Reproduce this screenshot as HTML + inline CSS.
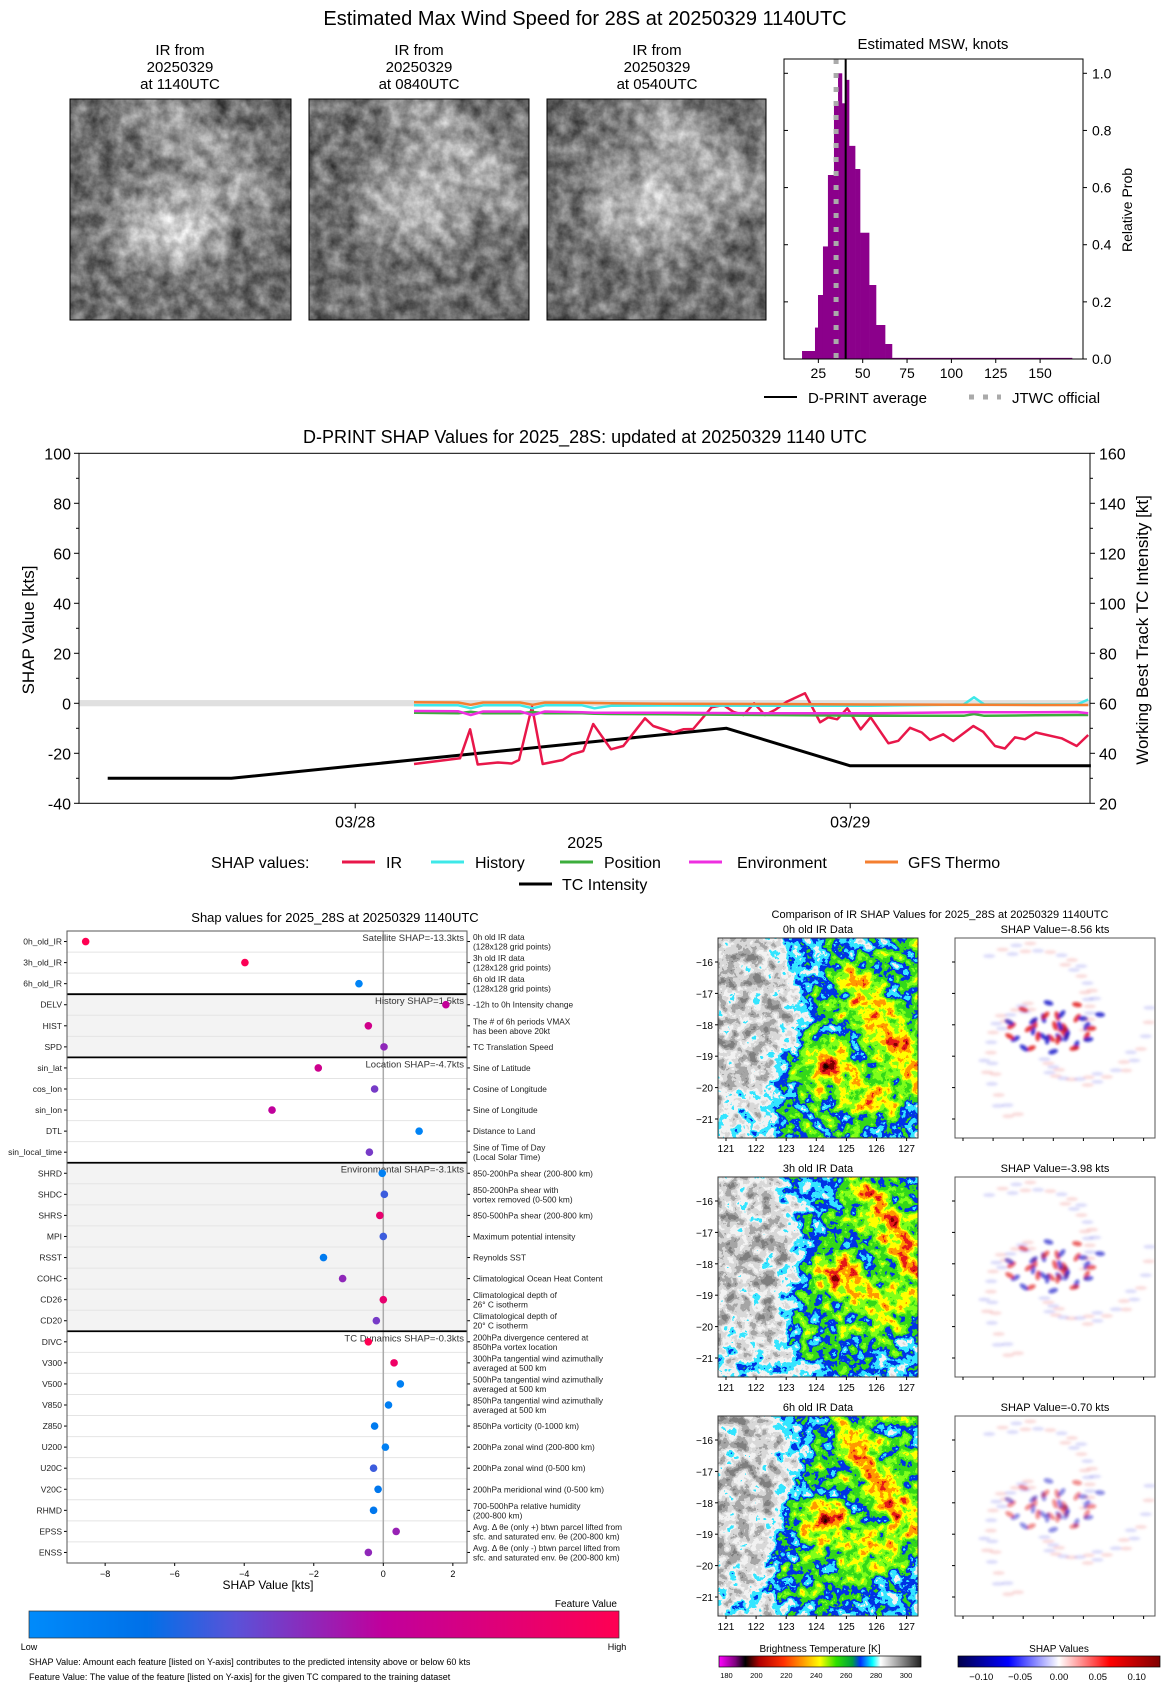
<!DOCTYPE html>
<html><head><meta charset="utf-8">
<style>
html,body{margin:0;padding:0;background:#fff;}
svg{display:block;font-family:"Liberation Sans","DejaVu Sans",sans-serif;}
</style></head>
<body>
<svg id="root" width="1168" height="1683" viewBox="0 0 1168 1683" xmlns="http://www.w3.org/2000/svg">
<defs>
  <filter id="grayIR" filterUnits="userSpaceOnUse" x="0" y="0" width="1168" height="1683" color-interpolation-filters="sRGB">
    <feGaussianBlur in="SourceGraphic" stdDeviation="10" result="src"/>
    <feTurbulence type="fractalNoise" baseFrequency="0.07" numOctaves="4" seed="3" result="n"/>
    <feColorMatrix in="n" type="matrix" values="1 0 0 0 0  1 0 0 0 0  1 0 0 0 0  0 0 0 0 1" result="ng"/>
    <feComposite in="src" in2="ng" operator="arithmetic" k1="0" k2="0.9" k3="0.6" k4="-0.2"/>
  </filter>
  <filter id="colIR" filterUnits="userSpaceOnUse" x="0" y="0" width="1168" height="1683" color-interpolation-filters="sRGB">
    <feGaussianBlur in="SourceGraphic" stdDeviation="9" result="src"/>
    <feTurbulence type="fractalNoise" baseFrequency="0.08" numOctaves="4" seed="7" result="n"/>
    <feColorMatrix in="n" type="matrix" values="1 0 0 0 0  1 0 0 0 0  1 0 0 0 0  0 0 0 0 1" result="ng"/>
    <feComposite in="src" in2="ng" operator="arithmetic" k1="0" k2="1" k3="0.6" k4="-0.3" result="v"/>
    <feComponentTransfer in="v">
      <feFuncR type="discrete" tableValues="0.5 0.65 0.85 0.95 0.2 0.0 0.2 0.5 1 1 0.9 0.5 0.1"/>
      <feFuncG type="discrete" tableValues="0.5 0.65 0.85 0.95 0.9 0.2 0.85 1 1 0.6 0.1 0.0 0.0"/>
      <feFuncB type="discrete" tableValues="0.5 0.65 0.85 0.95 1 0.9 0.1 0.1 0 0 0.1 0 0"/>
      <feFuncA type="linear" slope="0" intercept="1"/>
    </feComponentTransfer>
  </filter>
  <filter id="blur2" filterUnits="userSpaceOnUse" x="0" y="0" width="1168" height="1683"><feGaussianBlur stdDeviation="1.3"/></filter>
  <clipPath id="c1"><rect x="70" y="99" width="221" height="221"/></clipPath>
  <clipPath id="c2"><rect x="309" y="99" width="220" height="221"/></clipPath>
  <clipPath id="c3"><rect x="547" y="99" width="219" height="221"/></clipPath>
  <linearGradient id="fvGrad" x1="0" x2="1" y1="0" y2="0">
    <stop offset="0" stop-color="#008bfb"/><stop offset="0.2" stop-color="#0070e8"/>
    <stop offset="0.35" stop-color="#5a52d8"/><stop offset="0.6" stop-color="#c0009c"/>
    <stop offset="1" stop-color="#ff0052"/>
  </linearGradient>
  <linearGradient id="btGrad" x1="0" x2="1" y1="0" y2="0">
    <stop offset="0" stop-color="#ff00ff"/><stop offset="0.08" stop-color="#800080"/>
    <stop offset="0.13" stop-color="#000"/><stop offset="0.2" stop-color="#b00000"/>
    <stop offset="0.32" stop-color="#ff3000"/><stop offset="0.42" stop-color="#ffa000"/>
    <stop offset="0.5" stop-color="#ffff00"/><stop offset="0.58" stop-color="#30e000"/>
    <stop offset="0.66" stop-color="#00a040"/><stop offset="0.7" stop-color="#0030ff"/>
    <stop offset="0.76" stop-color="#00ffff"/><stop offset="0.8" stop-color="#ffffff"/>
    <stop offset="1" stop-color="#202020"/>
  </linearGradient>
  <linearGradient id="shGrad" x1="0" x2="1" y1="0" y2="0">
    <stop offset="0" stop-color="#00004c"/><stop offset="0.25" stop-color="#0000ff"/>
    <stop offset="0.5" stop-color="#ffffff"/><stop offset="0.75" stop-color="#ff0000"/>
    <stop offset="1" stop-color="#800000"/>
  </linearGradient>
</defs>

<text x="585" y="25" font-size="20" text-anchor="middle">Estimated Max Wind Speed for 28S at 20250329 1140UTC</text>

<g>
  <g font-size="15" text-anchor="middle">
    <text x="180" y="55">IR from</text>
    <text x="180" y="72">20250329</text><text x="180" y="89">at 1140UTC</text>
    <text x="419" y="55">IR from</text>
    <text x="419" y="72">20250329</text><text x="419" y="89">at 0840UTC</text>
    <text x="657" y="55">IR from</text>
    <text x="657" y="72">20250329</text><text x="657" y="89">at 0540UTC</text>
  </g>
  <g>
    <g clip-path="url(#c1)"><g filter="url(#grayIR)"><rect x="60" y="90" width="240" height="240" fill="#606060"/>
      <ellipse cx="200" cy="150" rx="100" ry="30" transform="rotate(40 200 150)" fill="#909090"/>
      <ellipse cx="170" cy="225" rx="60" ry="45" fill="#a0a0a0"/><ellipse cx="180" cy="230" rx="22" ry="18" fill="#e0e0e0"/></g></g>
    <rect x="70" y="99" width="221" height="221" fill="none" stroke="#000"/>
  </g>
  <g>
    <g clip-path="url(#c2)"><g filter="url(#grayIR)"><rect x="300" y="90" width="240" height="240" fill="#606060"/>
      <ellipse cx="460" cy="150" rx="100" ry="25" transform="rotate(40 460 150)" fill="#a0a0a0"/>
      <ellipse cx="420" cy="200" rx="60" ry="50" fill="#989898"/><ellipse cx="425" cy="205" rx="18" ry="15" fill="#c8c8c8"/></g></g>
    <rect x="309" y="99" width="220" height="221" fill="none" stroke="#000"/>
  </g>
  <g>
    <g clip-path="url(#c3)"><g filter="url(#grayIR)"><rect x="540" y="90" width="240" height="240" fill="#606060"/>
      <ellipse cx="700" cy="150" rx="90" ry="25" transform="rotate(40 700 150)" fill="#a0a0a0"/>
      <ellipse cx="655" cy="200" rx="70" ry="60" fill="#989898"/><ellipse cx="655" cy="200" rx="20" ry="16" fill="#e0e0e0"/></g></g>
    <rect x="547" y="99" width="219" height="221" fill="none" stroke="#000"/>
  </g>
</g>

<g id="hist"></g>
<g id="ts"></g>
<g id="bar"></g>
<g id="maps"></g>
</svg>

<script>
// ---------- histogram data ----------
const histEdges = [15.8,23.1,24.8,27.6,30.4,33.8,36.1,38.3,40.6,42.3,45.7,48.5,53.6,57.5,62.6,66.5,168];
const histProbs = [0.028,0.11,0.224,0.394,0.644,0.895,1.0,0.895,0.977,0.746,0.665,0.442,0.259,0.119,0.0525,0.004];
const histXTicks = [25,50,75,100,125,150];
const histYTicks = [0,0.2,0.4,0.6,0.8,1.0];
const dprintAvg = 40.4;
const jtwcOfficial = 35;

// ---------- SHAP time series data (hours from 03/28 00Z) ----------
const irHours = [2.85,5.08,5.57,5.94,6.92,7.59,7.94,8.57,9.09,10.06,10.5,11.06,11.54,12.4,13.0,14.05,14.45,15.42,15.91,16.39,17.28,17.85,18.33,18.82,19.34,19.87,20.35,20.92,21.81,22.54,22.94,23.37,23.86,24.51,24.99,25.85,26.33,26.9,27.47,27.87,28.51,29.0,29.97,30.45,31.02,31.5,31.99,32.47,33.0,34.25,34.98,35.54];
const irVals = [-24.3,-22,-10.4,-24.5,-23.7,-24.1,-22.7,-1.3,-24.3,-22.7,-20.4,-19.1,-8.3,-18.4,-17.1,-6,-9.1,-11.7,-10.4,-10.3,-1.6,-0.7,-3.4,-4.7,0,-4.7,-2.7,0.6,4,-7.6,-5.6,-6.4,-2,-10.4,-5.6,-16,-15,-9.8,-11.7,-14.7,-12.4,-15.1,-9.1,-11.4,-17.1,-18.1,-13.6,-14.4,-11.7,-14,-17.1,-12.7];
const compHours = [2.85,5.0,5.6,6.2,8.0,8.6,9.2,11.0,11.6,12.4,15,20,25,29.5,30.0,30.5,33,35,35.54];
const historyVals = [-0.8,-0.8,-2,-0.8,-0.8,-2,-0.8,-0.8,-2,-1,-0.9,-1,-1,-0.5,2.4,-0.5,-0.5,-0.5,1.5];
const positionVals = [-3.8,-4,-3.4,-4,-4,-3.5,-4,-4,-4.2,-4.3,-4.4,-4.7,-5,-5,-4.3,-5,-4.8,-4.7,-4.7];
const environmentVals = [-3.1,-3.2,-4.7,-3.3,-3.3,-4.7,-3.3,-3.6,-3.8,-3.8,-3.8,-4,-4,-3.6,-3.5,-3.6,-3.6,-3.5,-4];
const gfsVals = [0.4,0.3,-0.6,0.3,0.3,-0.6,0.3,0.2,0.1,0,-0.2,-0.3,-0.5,-0.6,-0.6,-0.6,-0.7,-0.7,-0.7];
const tcHours = [-12,-6,0,6,12,18,24,30,35.67];
const tcVals = [30,30,35,40,45,50,35,35,35];
const tsLeftTicks = [100,80,60,40,20,0,-20,-40];
const tsRightTicks = [160,140,120,100,80,60,40,20];
const tsDateTicks = [0,24];
const tsDateLabels = ["03/28","03/29"];

// ---------- feature SHAP data ----------
const featNames = ["0h_old_IR","3h_old_IR","6h_old_IR","DELV","HIST","SPD","sin_lat","cos_lon","sin_lon","DTL","sin_local_time","SHRD","SHDC","SHRS","MPI","RSST","COHC","CD26","CD20","DIVC","V300","V500","V850","Z850","U200","U20C","V20C","RHMD","EPSS","ENSS"];
const featShap = [-8.56,-3.98,-0.70,1.8,-0.43,0.02,-1.87,-0.25,-3.2,1.03,-0.4,-0.03,0.03,-0.1,0,-1.72,-1.17,0,-0.2,-0.43,0.31,0.49,0.15,-0.25,0.06,-0.28,-0.15,-0.28,0.37,-0.43];
const featValue = [1.0,0.98,0.05,0.62,0.7,0.48,0.68,0.42,0.6,0.06,0.42,0.08,0.3,0.85,0.3,0.12,0.48,0.85,0.42,1.0,0.9,0.08,0.1,0.12,0.08,0.3,0.15,0.15,0.5,0.48];
const featDesc = [["0h old IR data","(128x128 grid points)"],["3h old IR data","(128x128 grid points)"],["6h old IR data","(128x128 grid points)"],["-12h to 0h Intensity change"],["The # of 6h periods VMAX","has been above 20kt"],["TC Translation Speed"],["Sine of Latitude"],["Cosine of Longitude"],["Sine of Longitude"],["Distance to Land"],["Sine of Time of Day","(Local Solar Time)"],["850-200hPa shear (200-800 km)"],["850-200hPa shear with","vortex removed (0-500 km)"],["850-500hPa shear (200-800 km)"],["Maximum potential intensity"],["Reynolds SST"],["Climatological Ocean Heat Content"],["Climatological depth of","26° C isotherm"],["Climatological depth of","20° C isotherm"],["200hPa divergence centered at","850hPa vortex location"],["300hPa tangential wind azimuthally","averaged at 500 km"],["500hPa tangential wind azimuthally","averaged at 500 km"],["850hPa tangential wind azimuthally","averaged at 500 km"],["850hPa vorticity (0-1000 km)"],["200hPa zonal wind (200-800 km)"],["200hPa zonal wind (0-500 km)"],["200hPa meridional wind (0-500 km)"],["700-500hPa relative humidity","(200-800 km)"],["Avg. Δ θe (only +) btwn parcel lifted from","sfc. and saturated env. θe (200-800 km)"],["Avg. Δ θe (only -) btwn parcel lifted from","sfc. and saturated env. θe (200-800 km)"]];
const groupStarts = [0,3,6,11,19];
const groupTitles = ["Satellite SHAP=-13.3kts","History SHAP=1.5kts","Location SHAP=-4.7kts","Environmental SHAP=-3.1kts","TC Dynamics SHAP=-0.3kts"];
const groupShaded = [false,true,false,true,false];
const featXTicks = [-8,-6,-4,-2,0,2];

// ---------- map panels ----------
const mapTitles = ["0h old IR Data","3h old IR Data","6h old IR Data"];
const mapShapTitles = ["SHAP Value=-8.56 kts","SHAP Value=-3.98 kts","SHAP Value=-0.70 kts"];
const latTicks = [-16,-17,-18,-19,-20,-21];
const lonTicks = [121,122,123,124,125,126,127];
const btTicks = [180,200,220,240,260,280,300];
const shapCbTicks = [-0.10,-0.05,0.00,0.05,0.10];

const NS = "http://www.w3.org/2000/svg";
function mk(parent, tag, attrs, text) {
  const e = document.createElementNS(NS, tag);
  for (const k in attrs) e.setAttribute(k, attrs[k]);
  if (text !== undefined) e.textContent = text;
  parent.appendChild(e);
  return e;
}

// ================= HISTOGRAM =================
(function(){
  const g = document.getElementById('hist');
  const L=784,R=1083,T=59,B=359;
  const hx = v => 774 + (v)*1.774;
  const hy = p => B - p*285.7;
  let el;
  el = mk(g,'text',{x:933,y:49,'font-size':15,'text-anchor':'middle'},'Estimated MSW, knots');
  
  
  for (let i=0;i<histProbs.length;i++){
    el = mk(g,'rect',{x:hx(histEdges[i]),y:hy(histProbs[i]),width:hx(histEdges[i+1])-hx(histEdges[i])+0.3,height:B-hy(histProbs[i]),fill:'#8b008b'});
    
    
  }
  el = mk(g,'line',{x1:hx(jtwcOfficial),x2:hx(jtwcOfficial),y1:T,y2:B,stroke:'#aaa','stroke-width':5,'stroke-dasharray':'5 9'});
  
  
  el = mk(g,'line',{x1:hx(dprintAvg),x2:hx(dprintAvg),y1:T,y2:B,stroke:'#000','stroke-width':2});
  
  
  el = mk(g,'rect',{x:L,y:T,width:R-L,height:B-T,fill:'none',stroke:'#000'});
  
  
  for (const t of histXTicks){
    mk(g,'line',{x1:hx(t),x2:hx(t),y1:B,y2:B+4,stroke:'#000'});
    el = mk(g,'text',{x:hx(t),y:B+19,'font-size':14,'text-anchor':'middle'},String(t));
    
    
  }
  for (const t of histYTicks){
    mk(g,'line',{x1:R,x2:R+4,y1:hy(t),y2:hy(t),stroke:'#000'});
    mk(g,'line',{x1:L,x2:L+4,y1:hy(t),y2:hy(t),stroke:'#000'});
    el = mk(g,'text',{x:R+9,y:hy(t)+5,'font-size':14},t.toFixed(1));
    
    
  }
  el = mk(g,'text',{x:0,y:0,'font-size':14,'text-anchor':'middle',transform:'translate(1132 210) rotate(-90)'},'Relative Prob');
  
  
  mk(g,'line',{x1:764,x2:797,y1:397,y2:397,stroke:'#000','stroke-width':2});
  el = mk(g,'text',{x:808,y:403,'font-size':15},'D-PRINT average');
  
  
  mk(g,'line',{x1:969,x2:1001,y1:397,y2:397,stroke:'#aaa','stroke-width':5,'stroke-dasharray':'5 9'});
  el = mk(g,'text',{x:1012,y:403,'font-size':15},'JTWC official');
  
  
})();

// ================= TIME SERIES =================
(function(){
  const g = document.getElementById('ts');
  const L=79,R=1090,T=453.3,B=803.3;
  const tx = h => 355.2 + h*20.625;
  const ty = v => 703.3 - v*2.5;
  const tyR = k => ty(k-60);
  let el;
  el = mk(g,'text',{x:585,y:443,'font-size':18,'text-anchor':'middle'},'D-PRINT SHAP Values for 2025_28S: updated at 20250329 1140 UTC');
  
  
  el = mk(g,'rect',{x:L,y:ty(1.3),width:R-L,height:ty(-1.2)-ty(1.3),fill:'#e0e0e0'});
  
  
  function line(hs, vs, color, w, yf){
    const pts = hs.map((h,i)=> tx(h).toFixed(1)+','+(yf||ty)(vs[i]).toFixed(1)).join(' ');
    return mk(g,'polyline',{points:pts,fill:'none',stroke:color,'stroke-width':w,'stroke-linejoin':'round'});
  }
  el = line(tcHours,tcVals,'#000',3,tyR);
  
  
  el = line(irHours,irVals,'#e8174a',2.5);
  
  
  el = line(compHours,positionVals,'#3cae3c',2.5);
  
  
  el = line(compHours,environmentVals,'#ee2fe0',2.5);
  
  
  el = line(compHours,historyVals,'#3ee8e8',2.5);
  
  
  el = line(compHours,gfsVals,'#f47f30',2.5);
  
  
  el = mk(g,'rect',{x:L,y:T,width:R-L,height:B-T,fill:'none',stroke:'#000'});
  
  
  for (const t of tsLeftTicks){
    mk(g,'line',{x1:L-5,x2:L,y1:ty(t),y2:ty(t),stroke:'#000'});
    if (t>-40) mk(g,'line',{x1:L-3,x2:L,y1:ty(t-10),y2:ty(t-10),stroke:'#000'});
    el = mk(g,'text',{x:L-8,y:ty(t)+6,'font-size':16,'text-anchor':'end'},String(t));
    
    
  }
  for (const t of tsRightTicks){
    mk(g,'line',{x1:R,x2:R+5,y1:tyR(t),y2:tyR(t),stroke:'#000'});
    if (t>20) mk(g,'line',{x1:R,x2:R+3,y1:tyR(t-10),y2:tyR(t-10),stroke:'#000'});
    el = mk(g,'text',{x:R+9,y:tyR(t)+6,'font-size':16},String(t));
    
    
  }
  for (let i=0;i<tsDateTicks.length;i++){
    mk(g,'line',{x1:tx(tsDateTicks[i]),x2:tx(tsDateTicks[i]),y1:B,y2:B+5,stroke:'#000'});
    el = mk(g,'text',{x:tx(tsDateTicks[i]),y:B+24,'font-size':16,'text-anchor':'middle'},tsDateLabels[i]);
    
    
  }
  el = mk(g,'text',{x:585,y:848,'font-size':16,'text-anchor':'middle'},'2025');
  
  
  el = mk(g,'text',{x:0,y:0,'font-size':17,'text-anchor':'middle',transform:'translate(34 630) rotate(-90)'},'SHAP Value [kts]');
  
  
  el = mk(g,'text',{x:0,y:0,'font-size':17,'text-anchor':'middle',transform:'translate(1148 630) rotate(-90)'},'Working Best Track TC Intensity [kt]');
  
  
  el = mk(g,'text',{x:211,y:868,'font-size':16},'SHAP values:');
  
  
  const leg = [[342,386,'#e8174a','IR'],[431,475,'#3ee8e8','History'],[560,604,'#3cae3c','Position'],[689,737,'#ee2fe0','Environment'],[865,908,'#f47f30','GFS Thermo'],[519,562,'#000','TC Intensity']];
  for (let i=0;i<leg.length;i++){
    const yy = i<5?862:884;
    mk(g,'line',{x1:leg[i][0],x2:leg[i][0]+33,y1:yy,y2:yy,stroke:leg[i][2],'stroke-width':3});
    el = mk(g,'text',{x:leg[i][1],y:yy+6,'font-size':16},leg[i][3]);
    
    
  }
})();

// ================= FEATURE SHAP =================
(function(){
  const g = document.getElementById('bar');
  const L=67,R=467,T=931,B=1563;
  const n = featNames.length;
  const rh = (B-T)/n;
  const fx = v => 383.3 + v*34.77;
  const ry = i => T + rh*(i+0.5);
  let el;
  el = mk(g,'text',{x:335,y:922,'font-size':13,'text-anchor':'middle'},'Shap values for 2025_28S at 20250329 1140UTC');
  
  
  for (let k=0;k<groupStarts.length;k++){
    const s=groupStarts[k], e=(k+1<groupStarts.length?groupStarts[k+1]:n);
    if (groupShaded[k]) mk(g,'rect',{x:L,y:T+rh*s,width:R-L,height:rh*(e-s),fill:'#f3f3f3'});
  }
  for (let i=1;i<n;i++) mk(g,'line',{x1:L,x2:R,y1:T+rh*i,y2:T+rh*i,stroke:'#e4e4e4','stroke-width':1});
  mk(g,'line',{x1:fx(0),x2:fx(0),y1:T,y2:B,stroke:'#aaa','stroke-width':1.5});
  for (let k=1;k<groupStarts.length;k++){
    el = mk(g,'line',{x1:L,x2:R,y1:T+rh*groupStarts[k],y2:T+rh*groupStarts[k],stroke:'#000','stroke-width':1.8});
    
    
  }
  for (let k=0;k<groupStarts.length;k++){
    el = mk(g,'text',{x:R-3,y:T+rh*groupStarts[k]+10,'font-size':9.5,'text-anchor':'end',fill:'#333'},groupTitles[k]);
    
    
  }
  function fcol(v){
    const stops=[[0,[0,139,251]],[0.2,[0,112,232]],[0.35,[90,82,216]],[0.6,[192,0,156]],[1,[255,0,82]]];
    for (let i=1;i<stops.length;i++){ if (v<=stops[i][0]){ const a=stops[i-1],b=stops[i],t=(v-a[0])/(b[0]-a[0]); return 'rgb('+a[1].map((c,j)=>Math.round(c+(b[1][j]-c)*t)).join(',')+')'; } }
    return 'rgb(255,0,82)';
  }
  for (let i=0;i<n;i++){
    mk(g,'line',{x1:L-3,x2:L,y1:ry(i),y2:ry(i),stroke:'#000'});
    mk(g,'line',{x1:R,x2:R+3,y1:ry(i),y2:ry(i),stroke:'#000'});
    el = mk(g,'text',{x:L-5,y:ry(i)+3,'font-size':8.5,'text-anchor':'end',fill:'#222'},featNames[i]);
    
    
    const d = featDesc[i];
    if (d.length===1){
      el = mk(g,'text',{x:R+6,y:ry(i)+3,'font-size':8.3,fill:'#222'},d[0]);
    } else {
      el = mk(g,'text',{x:R+6,y:ry(i)-1.5,'font-size':8.3,fill:'#222'});
      mk(el,'tspan',{x:R+6},d[0]);
      mk(el,'tspan',{x:R+6,dy:9.5},d[1]);
    }
    
    
    el = mk(g,'circle',{cx:fx(featShap[i]),cy:ry(i),r:3.8,fill:fcol(featValue[i])});
    
    
  }
  el = mk(g,'rect',{x:L,y:T,width:R-L,height:B-T,fill:'none',stroke:'#555'});
  
  
  for (const t of featXTicks){
    mk(g,'line',{x1:fx(t),x2:fx(t),y1:B,y2:B+3,stroke:'#000'});
    el = mk(g,'text',{x:fx(t),y:B+14,'font-size':9,'text-anchor':'middle'},(t<0?'\u2212'+(-t):String(t)));
    
    
  }
  el = mk(g,'text',{x:268,y:1589,'font-size':12,'text-anchor':'middle'},'SHAP Value [kts]');
  
  
  el = mk(g,'rect',{x:29,y:1611,width:590,height:27,fill:'url(#fvGrad)',stroke:'#333','stroke-width':0.7});
  
  
  el = mk(g,'text',{x:617,y:1607,'font-size':10,'text-anchor':'end'},'Feature Value');
  
  
  el = mk(g,'text',{x:29,y:1650,'font-size':9,'text-anchor':'middle'},'Low');
  
  
  el = mk(g,'text',{x:617,y:1650,'font-size':9,'text-anchor':'middle'},'High');
  
  
  el = mk(g,'text',{x:29,y:1665,'font-size':9},'SHAP Value: Amount each feature [listed on Y-axis] contributes to the predicted intensity above or below 60 kts');
  
  
  el = mk(g,'text',{x:29,y:1680,'font-size':9},'Feature Value: The value of the feature [listed on Y-axis] for the given TC compared to the training dataset');
  
  
})();

// ================= MAPS =================
(function(){
  const g = document.getElementById('maps');
  const ML=718, MW=200, SL=955, rowsY=[938,1177,1416];
  let el;
  el = mk(g,'text',{x:940,y:918,'font-size':11,'text-anchor':'middle'},'Comparison of IR SHAP Values for 2025_28S at 20250329 1140UTC');
  
  
  const defs = document.querySelector('defs');
  const lat = v => (-v-16)*31.4 + 24;
  const lon = v => (v-121)*30.1 + 8;
  const centers = [[124.4,-19.3],[124.8,-18.4],[124.3,-18.6]];
  for (let r=0;r<3;r++){
    const y0 = rowsY[r];
    mk(mk(defs,'clipPath',{id:'mc'+r}),'rect',{x:ML,y:y0,width:MW,height:MW});
    el = mk(g,'text',{x:ML+MW/2,y:y0-5,'font-size':11,'text-anchor':'middle'},mapTitles[r]);
    
    
    el = mk(g,'text',{x:SL+MW/2,y:y0-5,'font-size':11,'text-anchor':'middle'},mapShapTitles[r]);
    
    
    const cx = ML+lon(centers[r][0]), cy = y0+lat(centers[r][1]);
    const clip = mk(g,'g',{'clip-path':'url(#mc'+r+')'});
    const ir = mk(clip,'g',{filter:'url(#colIR)'});
    
    
    mk(ir,'rect',{x:ML-20,y:y0-20,width:MW+40,height:MW+40,fill:'rgb(95,95,95)'});
    mk(ir,'ellipse',{cx:ML+10,cy:y0+70,rx:70,ry:120,transform:'rotate(-20 '+(ML+10)+' '+(y0+70)+')',fill:'rgb(45,45,45)'});
    mk(ir,'ellipse',{cx:ML+30,cy:y0+190,rx:70,ry:30,fill:'rgb(70,70,70)'});
    mk(ir,'ellipse',{cx:cx+40,cy:cy-20,rx:130,ry:70,transform:'rotate(-55 '+(cx+40)+' '+(cy-20)+')',fill:'rgb(122,122,122)'});
    mk(ir,'ellipse',{cx:cx+55,cy:cy-40,rx:85,ry:13,transform:'rotate(55 '+(cx+55)+' '+(cy-40)+')',fill:'rgb(195,195,195)'});
    mk(ir,'ellipse',{cx:cx+45,cy:cy+30,rx:30,ry:22,fill:'rgb(165,165,165)'});
    mk(ir,'circle',{cx:cx,cy:cy,r:18,fill:'rgb(210,210,210)'});
    mk(ir,'circle',{cx:cx+4,cy:cy+4,r:7,fill:'rgb(235,235,235)'});
    el = mk(g,'rect',{x:ML,y:y0,width:MW,height:MW,fill:'none',stroke:'#333'});
    el = mk(g,'rect',{x:SL,y:y0,width:MW,height:MW,fill:'#fff',stroke:'#555'});
    
    
    const sg = mk(g,'g',{filter:'url(#blur2)','clip-path':'url(#mc'+r+')',transform:'translate('+(SL-ML)+' 0)'});
    const scx = ML+100, scy = y0+92;
    const amp = [1,0.8,0.6][r];
    for (let k=0;k<40;k++){
      const a = k*2.4, d = 6+ (k*7)%36;
      const col = (k%2===0)?'rgba(225,20,20,'+(0.8*amp)+')':'rgba(20,20,200,'+(0.8*amp)+')';
      mk(sg,'ellipse',{cx:scx+Math.cos(a)*d*1.3,cy:scy+Math.sin(a)*d*0.7,rx:5,ry:2.5,fill:col,transform:'rotate('+(k*37%180)+' '+(scx+Math.cos(a)*d*1.3)+' '+(scy+Math.sin(a)*d*0.7)+')'});
    }
    for (let k=0;k<70;k++){
      const a = k*1.7, d = 30+(k*13)%70;
      const col = (k%2===0)?'rgba(230,90,90,0.2)':'rgba(90,90,230,0.2)';
      mk(sg,'ellipse',{cx:scx+Math.cos(a)*d,cy:scy+Math.sin(a)*d,rx:6,ry:2,fill:col});
    }
    for (const t of latTicks){
      mk(g,'line',{x1:ML-3,x2:ML,y1:y0+lat(t),y2:y0+lat(t),stroke:'#000'});
      mk(g,'line',{x1:SL-3,x2:SL,y1:y0+lat(t),y2:y0+lat(t),stroke:'#000'});
      el = mk(g,'text',{x:ML-5,y:y0+lat(t)+4,'font-size':10,'text-anchor':'end'},'\u2212'+(-t));
      
      
    }
    for (const t of lonTicks){
      mk(g,'line',{x1:ML+lon(t),x2:ML+lon(t),y1:y0+MW,y2:y0+MW+3,stroke:'#000'});
      mk(g,'line',{x1:SL+lon(t),x2:SL+lon(t),y1:y0+MW,y2:y0+MW+3,stroke:'#000'});
      el = mk(g,'text',{x:ML+lon(t),y:y0+MW+14,'font-size':10,'text-anchor':'middle'},String(t));
      
      
    }
  }
  el = mk(g,'rect',{x:719,y:1656,width:202,height:11,fill:'url(#btGrad)',stroke:'#000','stroke-width':0.7});
  
  
  el = mk(g,'text',{x:820,y:1652,'font-size':10,'text-anchor':'middle'},'Brightness Temperature [K]');
  
  
  for (const t of btTicks){
    const x = 719 + (t-175)/(310-175)*202;
    el = mk(g,'text',{x:x,y:1678,'font-size':7.5,'text-anchor':'middle'},String(t));
    
    
  }
  el = mk(g,'rect',{x:958,y:1656,width:202,height:11,fill:'url(#shGrad)',stroke:'#000','stroke-width':0.7});
  
  
  el = mk(g,'text',{x:1059,y:1652,'font-size':10,'text-anchor':'middle'},'SHAP Values');
  
  
  for (const t of shapCbTicks){
    const x = 958 + (t+0.13)/0.26*202;
    el = mk(g,'text',{x:x,y:1680,'font-size':9.5,'text-anchor':'middle'},(t<0?'\u2212'+(-t).toFixed(2):t.toFixed(2)));
    
    
  }
})();
</script>
</body></html>
